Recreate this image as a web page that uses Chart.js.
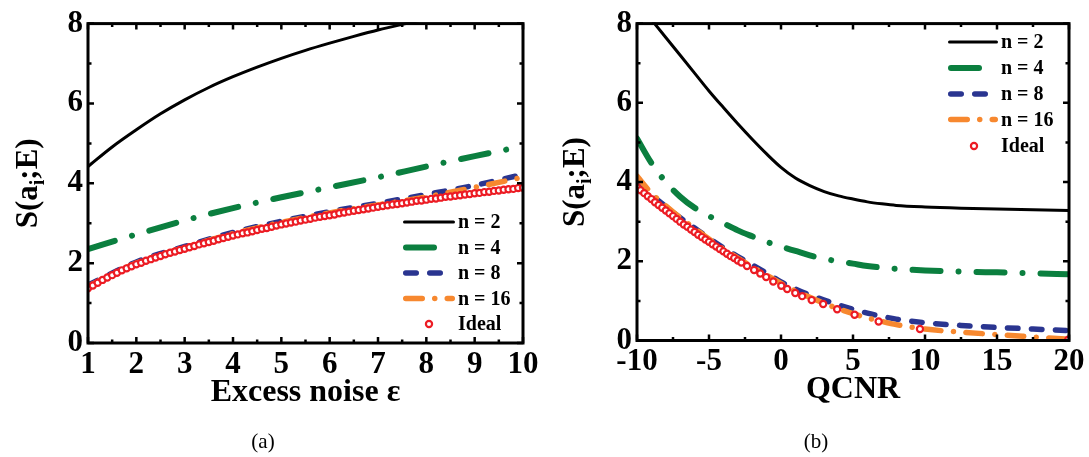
<!DOCTYPE html>
<html>
<head>
<meta charset="utf-8">
<script src="https://cdn.jsdelivr.net/npm/chart.js@4.4.0/dist/chart.umd.min.js"></script>
<style>
  body { margin: 0; background: #fff; width: 1089px; height: 457px; position: relative; overflow: hidden; font-family: "Liberation Serif", serif; }
  .box { position: absolute; top: 0; height: 457px; }
  #boxA { left: 0; width: 545px; }
  #boxB { left: 545px; width: 544px; }
  .cap { position: absolute; top: 429px; font-size: 21px; line-height: 24px; width: 60px; text-align: center; }
</style>
</head>
<body>
<div class="box" id="boxA"><canvas id="chartA"></canvas></div>
<div class="box" id="boxB"><canvas id="chartB"></canvas></div>
<div class="cap" style="left:233px">(a)</div>
<div class="cap" style="left:786px">(b)</div>
<script>
// ---- panel (a): excess noise ----
const noiseX = [1, 1.5, 2, 2.5, 3, 3.5, 4, 4.5, 5, 5.5, 6, 6.5, 7, 7.5, 8, 8.5, 9, 9.5, 10];
const noiseN2 = [4.42, 4.91, 5.34, 5.74, 6.09, 6.40, 6.67, 6.91, 7.13, 7.33, 7.51, 7.68, 7.84, 7.98, 8.11, 8.23, 8.35, 8.46, 8.57];
const noiseXInt = [1, 2, 3, 4, 5, 6, 7, 8, 9, 10];
const noiseN4 = [2.35, 2.72, 3.07, 3.38, 3.65, 3.90, 4.15, 4.42, 4.68, 4.93];
const noiseN8 = [1.45, 2.03, 2.42, 2.77, 3.05, 3.29, 3.50, 3.72, 3.95, 4.22];
const noiseN16 = [1.42, 2.00, 2.39, 2.74, 3.02, 3.26, 3.46, 3.66, 3.90, 4.15];
const noiseIdealX = [1.0, 1.1, 1.2, 1.3, 1.4, 1.5, 1.6, 1.7, 1.8, 1.9,
  2.0, 2.1, 2.2, 2.3, 2.4, 2.5, 2.6, 2.7, 2.8, 2.9,
  3.0, 3.1, 3.2, 3.3, 3.4, 3.5, 3.6, 3.7, 3.8, 3.9,
  4.0, 4.1, 4.2, 4.3, 4.4, 4.5, 4.6, 4.7, 4.8, 4.9,
  5.0, 5.1, 5.2, 5.3, 5.4, 5.5, 5.6, 5.7, 5.8, 5.9,
  6.0, 6.1, 6.2, 6.3, 6.4, 6.5, 6.6, 6.7, 6.8, 6.9,
  7.0, 7.1, 7.2, 7.3, 7.4, 7.5, 7.6, 7.7, 7.8, 7.9,
  8.0, 8.1, 8.2, 8.3, 8.4, 8.5, 8.6, 8.7, 8.8, 8.9,
  9.0, 9.1, 9.2, 9.3, 9.4, 9.5, 9.6, 9.7, 9.8, 9.9, 10.0];
const noiseIdeal = [1.37, 1.44, 1.51, 1.58, 1.64, 1.70, 1.76, 1.82, 1.87, 1.92,
  1.97, 2.01, 2.06, 2.10, 2.14, 2.18, 2.22, 2.26, 2.29, 2.33,
  2.36, 2.40, 2.43, 2.47, 2.50, 2.53, 2.56, 2.60, 2.63, 2.66,
  2.69, 2.72, 2.75, 2.77, 2.80, 2.83, 2.86, 2.88, 2.91, 2.94,
  2.97, 2.99, 3.02, 3.04, 3.07, 3.09, 3.11, 3.14, 3.16, 3.18,
  3.20, 3.22, 3.25, 3.27, 3.29, 3.31, 3.33, 3.35, 3.37, 3.39,
  3.41, 3.43, 3.45, 3.47, 3.48, 3.50, 3.52, 3.54, 3.56, 3.57,
  3.59, 3.61, 3.62, 3.64, 3.66, 3.67, 3.69, 3.70, 3.72, 3.73,
  3.75, 3.76, 3.78, 3.79, 3.81, 3.82, 3.84, 3.85, 3.86, 3.88, 3.89];

// ---- panel (b): QCNR ----
const qcnrX = [-10, -9, -8, -7, -6, -5, -4, -3, -2, -1, 0, 1, 2, 3, 4, 5, 6, 7, 8, 10, 12.5, 15, 17.5, 20];
const qcnrN2 = [8.55, 8.10, 7.65, 7.20, 6.75, 6.30, 5.88, 5.47, 5.08, 4.71, 4.37, 4.10, 3.91, 3.76, 3.65, 3.57, 3.50, 3.45, 3.41, 3.37, 3.34, 3.32, 3.30, 3.28];
const qcnrN4 = [5.10, 4.48, 4.00, 3.63, 3.35, 3.14, 2.96, 2.78, 2.63, 2.49, 2.37, 2.26, 2.15, 2.06, 2.00, 1.94, 1.88, 1.84, 1.81, 1.77, 1.74, 1.72, 1.70, 1.67];
const qcnrN8 = [3.97, 3.67, 3.38, 3.10, 2.84, 2.58, 2.34, 2.12, 1.91, 1.70, 1.48, 1.30, 1.15, 1.02, 0.90, 0.79, 0.69, 0.61, 0.54, 0.45, 0.38, 0.33, 0.29, 0.25];
const qcnrN16 = [4.15, 3.72, 3.40, 3.10, 2.83, 2.56, 2.31, 2.08, 1.86, 1.65, 1.44, 1.25, 1.09, 0.94, 0.80, 0.68, 0.57, 0.48, 0.40, 0.29, 0.21, 0.15, 0.09, 0.03];
const qcnrIdealX = [-10, -9.75, -9.5, -9.25, -9, -8.75, -8.5, -8.25, -8, -7.75,
  -7.5, -7.25, -7, -6.75, -6.5, -6.25, -6, -5.75, -5.5, -5.25,
  -5, -4.75, -4.5, -4.25, -4, -3.75, -3.5, -3.25, -3, -2.75,
  -2.36, -1.87, -1.44, -1.03, -0.54, 0.02, 0.43, 0.99, 1.47, 2.13, 2.93, 3.9, 5.11, 6.78, 9.65, 19.95];
const qcnrIdeal = [3.87, 3.79, 3.72, 3.64, 3.57, 3.49, 3.42, 3.35, 3.28, 3.21,
  3.14, 3.07, 3.00, 2.93, 2.87, 2.80, 2.74, 2.67, 2.61, 2.55,
  2.49, 2.43, 2.37, 2.31, 2.25, 2.19, 2.13, 2.08, 2.02, 1.97,
  1.88, 1.78, 1.69, 1.60, 1.49, 1.38, 1.30, 1.20, 1.12, 1.02, 0.92, 0.79, 0.65, 0.48, 0.29, 0.02];

const legendLabels = ["n = 2", "n = 4", "n = 8", "n = 16", "Ideal"];
const yMinorTicks = [1, 3, 5, 7];
const noiseMinorTicks = [1.5, 2.5, 3.5, 4.5, 5.5, 6.5, 7.5, 8.5, 9.5];
const qcnrMinorTicks = [-7.5, -2.5, 2.5, 7.5, 12.5, 17.5];

const FONT = '"Liberation Serif", "Times New Roman", serif';
const colors = { n2: '#000000', n4: '#0b7f3f', n8: '#2a3590', n16: '#f7882f', ideal: '#ec1c24' };
const MARK_R = 3.1, MARK_W = 2.2;

function pts(xs, ys) {
  return xs.map((x, i) => ({ x: x, y: ys[i] }));
}

function lineSet(label, xs, ys, color, width, dash, order) {
  return {
    label: label,
    data: pts(xs, ys),
    borderColor: color,
    borderWidth: width,
    borderDash: dash,
    borderCapStyle: 'round',
    pointRadius: 0,
    cubicInterpolationMode: 'monotone',
    clip: 1,
    order: order
  };
}

function idealSet(xs, ys) {
  return {
    label: 'Ideal',
    data: pts(xs, ys),
    showLine: false,
    pointRadius: MARK_R,
    pointBorderWidth: MARK_W,
    pointBorderColor: colors.ideal,
    pointBackgroundColor: '#fff',
    borderColor: colors.ideal,
    order: 0
  };
}

// frame, inside ticks, legend and y title
const framePlugin = {
  id: 'frame',
  afterDatasetsDraw(chart, args, o) {
    const { ctx, chartArea: a, scales } = chart;
    const xs = scales.x, ys = scales.y;
    ctx.save();
    ctx.strokeStyle = '#000';
    ctx.lineWidth = 2.5;
    ctx.lineCap = 'butt';
    function xTick(v, len) {
      const p = xs.getPixelForValue(v);
      ctx.beginPath();
      ctx.moveTo(p, a.bottom); ctx.lineTo(p, a.bottom - len);
      ctx.moveTo(p, a.top); ctx.lineTo(p, a.top + len);
      ctx.stroke();
    }
    function yTick(v, len) {
      const p = ys.getPixelForValue(v);
      ctx.beginPath();
      ctx.moveTo(a.left, p); ctx.lineTo(a.left + len, p);
      ctx.moveTo(a.right, p); ctx.lineTo(a.right - len, p);
      ctx.stroke();
    }
    xs.ticks.forEach(t => xTick(t.value, 6));
    o.xMinor.forEach(v => xTick(v, 3.5));
    ys.ticks.forEach(t => yTick(t.value, 6));
    yMinorTicks.forEach(v => yTick(v, 3.5));
    ctx.lineWidth = 3;
    ctx.strokeRect(a.left, a.top, a.width, a.height);

    // legend
    const lg = o.legend;
    const sets = [chart.data.datasets[4], chart.data.datasets[3], chart.data.datasets[2], chart.data.datasets[1]];
    ctx.font = 'bold 20px ' + FONT;
    ctx.textBaseline = 'middle';
    ctx.textAlign = 'left';
    ctx.fillStyle = '#000';
    sets.forEach((ds, i) => {
      const y = lg.rows[i];
      ctx.strokeStyle = ds.borderColor;
      ctx.lineWidth = ds.borderWidth;
      ctx.lineCap = 'round';
      ctx.setLineDash(ds.borderDash);
      ctx.beginPath();
      ctx.moveTo(lg.x + ds.borderWidth / 2, y);
      ctx.lineTo(lg.x + lg.w - ds.borderWidth / 2, y);
      ctx.stroke();
      ctx.setLineDash([]);
      ctx.fillText(legendLabels[i], lg.x + lg.w + 3, y + 1);
    });
    const iy = lg.rows[4];
    ctx.beginPath();
    ctx.arc(lg.x + 26, iy, MARK_R, 0, Math.PI * 2);
    ctx.fillStyle = '#fff';
    ctx.fill();
    ctx.strokeStyle = colors.ideal;
    ctx.lineWidth = MARK_W;
    ctx.stroke();
    ctx.fillStyle = '#000';
    ctx.fillText(legendLabels[4], lg.x + lg.w + 3, iy + 1);

    // y title S(a_i;E)
    ctx.save();
    ctx.translate(o.titleX, (a.top + a.bottom) / 2);
    ctx.rotate(-Math.PI / 2);
    const big = 'bold 31px ' + FONT, small = 'bold 20px ' + FONT;
    ctx.font = big;
    const w1 = ctx.measureText('S(a').width, w3 = ctx.measureText(';E)').width;
    ctx.font = small;
    const w2 = ctx.measureText('i').width;
    let x = -(w1 + w2 + w3) / 2;
    ctx.textBaseline = 'alphabetic';
    ctx.font = big;
    ctx.fillText('S(a', x, 11);
    x += w1;
    ctx.font = small;
    ctx.fillText('i', x, 18);
    x += w2;
    ctx.font = big;
    ctx.fillText(';E)', x, 11);
    ctx.restore();

    ctx.restore();
  }
};

function makeChart(id, cfg) {
  return new Chart(document.getElementById(id), {
    type: 'line',
    data: { datasets: cfg.datasets },
    options: {
      responsive: true,
      maintainAspectRatio: false,
      animation: false,
      events: [],
      layout: { padding: { left: 0, top: cfg.top, right: cfg.right, bottom: 0 } },
      plugins: {
        legend: { display: false },
        tooltip: { enabled: false },
        frame: { xMinor: cfg.xMinor, legend: cfg.legend, titleX: cfg.titleX }
      },
      scales: {
        x: {
          type: 'linear',
          min: cfg.xMin,
          max: cfg.xMax,
          grid: { display: false, drawTicks: false },
          border: { display: false },
          ticks: { stepSize: cfg.xStep, padding: 3, color: '#000', font: { family: FONT, size: 31, weight: 'bold' } },
          title: { display: true, text: cfg.xTitle, color: '#000', padding: { top: 0, bottom: cfg.titlePad }, font: { family: FONT, size: 32, weight: 'bold' } },
          afterFit: s => { s.height = cfg.xHeight; }
        },
        y: {
          min: 0,
          max: 8,
          grid: { display: false, drawTicks: false },
          border: { display: false },
          ticks: { stepSize: 2, padding: 5, color: '#000', font: { family: FONT, size: 31, weight: 'bold' } },
          afterFit: s => { s.width = cfg.yWidth; }
        }
      }
    },
    plugins: [framePlugin]
  });
}

makeChart('chartA', {
  datasets: [
    lineSet('n = 2', noiseX, noiseN2, colors.n2, 3, [], 4),
    lineSet('n = 4', noiseXInt, noiseN4, colors.n4, 6, [28, 18, 0.01, 18], 3),
    lineSet('n = 8', noiseXInt, noiseN8, colors.n8, 5.5, [10.5, 13.5], 2),
    lineSet('n = 16', noiseXInt, noiseN16, colors.n16, 5.5, [16.5, 12.5, 0.01, 12.5], 1),
    idealSet(noiseIdealX, noiseIdeal)
  ].reverse(),
  xMin: 1, xMax: 10, xStep: 1, xMinor: noiseMinorTicks,
  xTitle: 'Excess noise \u03b5',
  top: 21, right: 22, yWidth: 88, xHeight: 114, titlePad: 45, titleX: 26,
  legend: { x: 403, w: 52, rows: [222, 247.5, 273, 298.5, 324] }
});

makeChart('chartB', {
  datasets: [
    lineSet('n = 2', qcnrX, qcnrN2, colors.n2, 3, [], 4),
    lineSet('n = 4', qcnrX, qcnrN4, colors.n4, 6, [28, 18, 0.01, 18], 3),
    lineSet('n = 8', qcnrX, qcnrN8, colors.n8, 5.5, [10.5, 13.5], 2),
    lineSet('n = 16', qcnrX, qcnrN16, colors.n16, 5.5, [16.5, 12.5, 0.01, 12.5], 1),
    idealSet(qcnrIdealX, qcnrIdeal)
  ].reverse(),
  xMin: -10, xMax: 20, xStep: 5, xMinor: qcnrMinorTicks,
  xTitle: 'QCNR',
  top: 17, right: 20, yWidth: 92, xHeight: 116.5, titlePad: 48, titleX: 28,
  legend: { x: 403, w: 50, rows: [42, 68, 94, 119.5, 146] }
});
</script>
</body>
</html>
